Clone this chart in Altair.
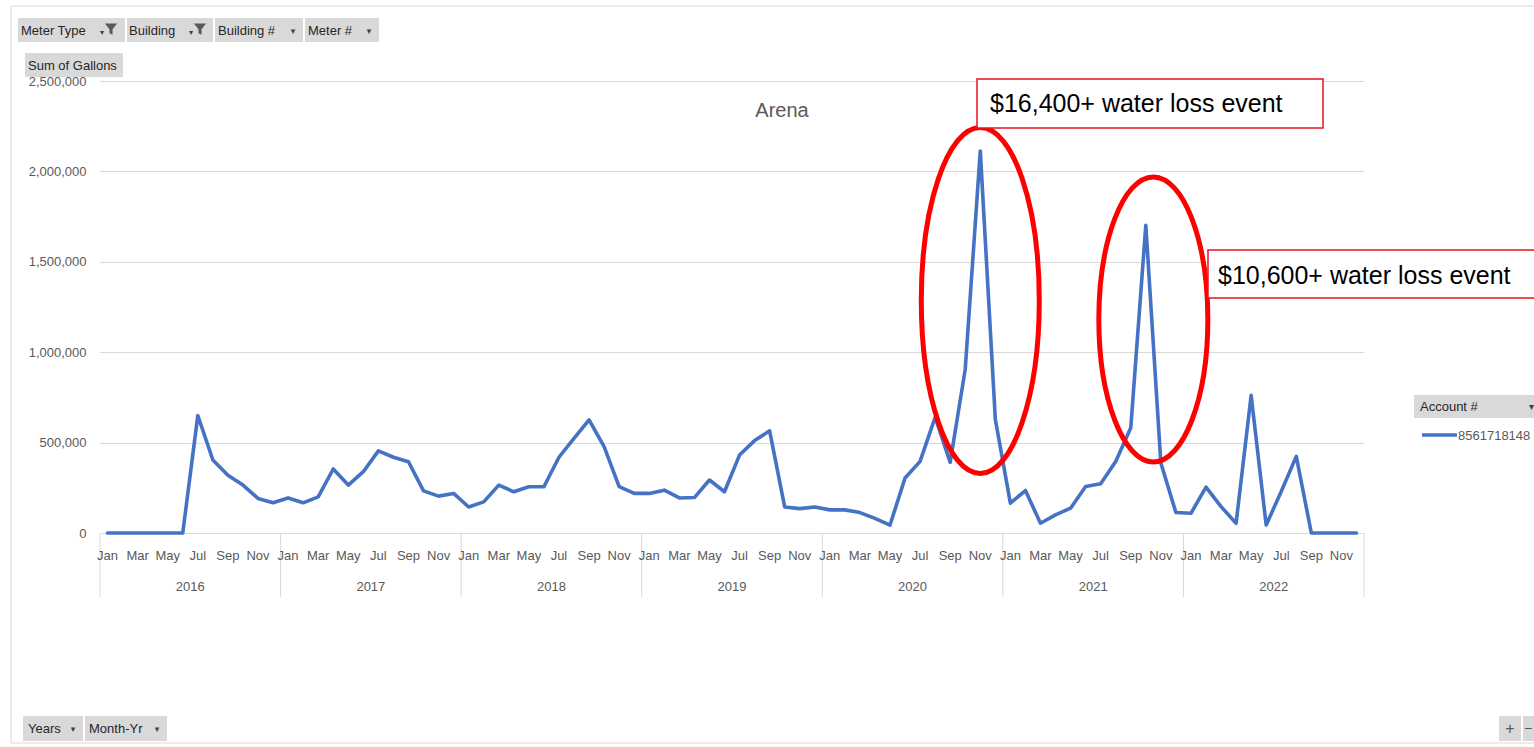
import altair as alt
import pandas as pd

# ---------------- data ----------------
months = ["Jan", "Feb", "Mar", "Apr", "May", "Jun",
          "Jul", "Aug", "Sep", "Oct", "Nov", "Dec"]
years = [2016, 2017, 2018, 2019, 2020, 2021, 2022]
gallons_2016 = [0, 0, 0, 0, 0, 0, 650000, 404000, 320000, 265000, 191000, 167000]
gallons_2017 = [194000, 167000, 200000, 354000, 265000, 339000, 454000, 419000, 394000, 233000, 204000, 219000]
gallons_2018 = [144000, 172000, 265000, 228000, 256000, 256000, 419000, 524000, 626000, 478000, 256000, 219000]
gallons_2019 = [219000, 237000, 194000, 196000, 293000, 228000, 431000, 511000, 565000, 144000, 135000, 144000]
gallons_2020 = [128000, 128000, 113000, 81000, 44000, 304000, 396000, 640000, 391000, 906000, 2113000, 628000]
gallons_2021 = [165000, 235000, 54000, 100000, 137000, 257000, 272000, 396000, 582000, 1702000, 387000, 113000]
gallons_2022 = [109000, 254000, 146000, 54000, 761000, 44000, 230000, 424000, 0, 0, 0, 0]
series = [gallons_2016, gallons_2017, gallons_2018, gallons_2019,
          gallons_2020, gallons_2021, gallons_2022]
y_ticks = [0, 500000, 1000000, 1500000, 2000000, 2500000]
account = "8561718148"
title_text = "Arena"
note1 = "$16,400+ water loss event"
note2 = "$10,600+ water loss event"

rows = []
for yi, yr in enumerate(years):
    for mi, m in enumerate(months):
        rows.append({"idx": yi * 12 + mi, "month": m, "year": yr,
                     "gallons": series[yi][mi]})
df = pd.DataFrame(rows)
n = len(df)
month_lbl = df[df["idx"] % 2 == 0]
year_df = pd.DataFrame({"year": [str(y) for y in years],
                        "mid": [i * 12 + 5.5 for i in range(len(years))]})
sep_df = pd.DataFrame({"b": [i * 12 - 0.5 for i in range(len(years) + 1)]})

# ellipse annotations (data coordinates: month index, gallons)
ell1 = pd.DataFrame({"idx": [58], "gallons": [1286000]})
ell2 = pd.DataFrame({"idx": [69.5], "gallons": [1181000]})

# ---------------- layout ----------------
W, H = 1264, 452
PL, PT = 100, 81
FONT = "Liberation Sans"
GRAY = "#595959"

xscale = alt.Scale(domain=[-0.5, n - 0.5], nice=False, zero=False)
yscale = alt.Scale(domain=[0, 2500000], nice=False)
one = alt.Data(values=[{"k": 0}])


def px(x):
    return x - PL


def py(y):
    return y - PT


def box(x0, y0, x1, y1, fill="#d9d9d9", stroke=None, sw=1.0, fill_op=1.0):
    kw = dict(fill=fill, fillOpacity=fill_op)
    if stroke:
        kw.update(stroke=stroke, strokeWidth=sw)
    return alt.Chart(one).mark_rect(**kw).encode(
        x=alt.value(px(x0)), x2=alt.value(px(x1)),
        y=alt.value(py(y0)), y2=alt.value(py(y1)))


def label(txt, x, y, size=13, color="#262626", align="left", font=FONT):
    return alt.Chart(one).mark_text(
        text=txt, font=font, fontSize=size, color=color, align=align,
        baseline="middle").encode(x=alt.value(px(x)), y=alt.value(py(y)))


def ellipse_path(a):
    k = 0.5523
    return (f"M0,-1 C{k*a:.4f},-1 {a:.4f},{-k} {a:.4f},0 "
            f"C{a:.4f},{k} {k*a:.4f},1 0,1 "
            f"C{-k*a:.4f},1 {-a:.4f},{k} {-a:.4f},0 "
            f"C{-a:.4f},{-k} {-k*a:.4f},-1 0,-1 Z")


FUNNEL = "M-1,-0.9 L1,-0.9 L0.25,0.05 L0.25,0.95 L-0.25,0.7 L-0.25,0.05 Z"


def funnel(x, y):
    return alt.Chart(one).mark_point(
        shape=FUNNEL, filled=True, size=150, color="#595959", opacity=1,
        strokeWidth=0).encode(x=alt.value(px(x)), y=alt.value(py(y)))


# ---------------- chart layers ----------------
frame = box(11, 6, 1560, 743, fill="white", stroke="#d9d9d9", sw=1, fill_op=0)

line = alt.Chart(df).mark_line(
    color="#4472C4", strokeWidth=3.6, strokeJoin="round", strokeCap="round"
).encode(
    x=alt.X("idx:Q", scale=xscale, axis=None),
    y=alt.Y("gallons:Q", scale=yscale,
            axis=alt.Axis(values=y_ticks, format=",.0f", grid=True,
                          gridColor="#d9d9d9", gridWidth=1, domain=False,
                          ticks=False, labelPadding=14, labelFont=FONT,
                          labelFontSize=13, labelColor=GRAY, title=None)),
)

seps = alt.Chart(sep_df).mark_rule(color="#d9d9d9", strokeWidth=1).encode(
    x=alt.X("b:Q", scale=xscale, axis=None),
    y=alt.value(H), y2=alt.value(597 - PT))

mlab = alt.Chart(month_lbl).mark_text(
    font=FONT, fontSize=13, color=GRAY, baseline="middle").encode(
    x=alt.X("idx:Q", scale=xscale, axis=None),
    y=alt.value(556 - PT), text="month:N")

ylab = alt.Chart(year_df).mark_text(
    font=FONT, fontSize=13, color=GRAY, baseline="middle").encode(
    x=alt.X("mid:Q", scale=xscale, axis=None),
    y=alt.value(587 - PT), text="year:N")

e1 = alt.Chart(ell1).mark_point(
    shape=ellipse_path(118 / 346), size=346 ** 2, filled=False,
    color="#FF0000", strokeWidth=5, opacity=1).encode(
    x=alt.X("idx:Q", scale=xscale, axis=None),
    y=alt.Y("gallons:Q", scale=yscale))

e2 = alt.Chart(ell2).mark_point(
    shape=ellipse_path(109 / 285), size=285 ** 2, filled=False,
    color="#FF0000", strokeWidth=5, opacity=1).encode(
    x=alt.X("idx:Q", scale=xscale, axis=None),
    y=alt.Y("gallons:Q", scale=yscale))

title = label(title_text, 782, 111, size=20, color=GRAY, align="center")

note_boxes = [
    box(977, 79, 1323, 128, fill="white", stroke="#E8141B", sw=1.5),
    label(note1, 990, 104, size=25, color="#000000"),
    box(1208, 250, 1560, 298, fill="white", stroke="#E8141B", sw=1.5),
    label(note2, 1218, 276, size=25, color="#000000"),
]

# legend
legend = [
    box(1414, 395, 1560, 418),
    label("Account #", 1420, 407, size=13),
    label("▾", 1529, 407, size=10, color="#404040", font="DejaVu Sans"),
    alt.Chart(one).mark_rule(color="#4472C4", strokeWidth=3.6).encode(
        x=alt.value(px(1422)), x2=alt.value(px(1457)), y=alt.value(py(435))),
    label(account, 1458, 436, size=13, color=GRAY),
]

# pivot chart field buttons
buttons = [
    box(18, 18, 125, 42), label("Meter Type", 21, 31),
    label("▾", 100, 33, size=8, color="#404040", font="DejaVu Sans"), funnel(111, 29),
    box(127, 18, 213, 42), label("Building", 129, 31),
    label("▾", 189, 33, size=8, color="#404040", font="DejaVu Sans"), funnel(200, 29),
    box(215, 18, 303, 42), label("Building #", 218, 31),
    label("▾", 293, 31, size=9, color="#404040", font="DejaVu Sans", align="center"),
    box(305, 18, 379, 42), label("Meter #", 308, 31),
    label("▾", 369, 31, size=9, color="#404040", font="DejaVu Sans", align="center"),
    box(25, 53, 123, 77), label("Sum of Gallons", 28, 66),
    box(23, 716, 83, 741), label("Years", 28, 729),
    label("▾", 73, 729, size=9, color="#404040", font="DejaVu Sans", align="center"),
    box(85, 716, 167, 741), label("Month-Yr", 89, 729),
    label("▾", 157, 729, size=9, color="#404040", font="DejaVu Sans", align="center"),
    box(1499, 716, 1521, 741), label("+", 1510, 729, size=16, color="#595959", align="center"),
    box(1523, 716, 1560, 741), label("−", 1528, 729, size=14, color="#595959", align="center"),
]

chart = alt.layer(
    frame, line, seps, mlab, ylab, e1, e2, title,
    *note_boxes, *legend, *buttons
).properties(
    width=W, height=H,
    padding={"left": PL, "top": PT, "right": 1534 - PL - W, "bottom": 747 - PT - H},
    autosize=alt.AutoSizeParams(type="none"),
    background="white",
).configure_view(stroke=None)

chart.save("out.html", embed_options={"renderer": "svg", "actions": False})
